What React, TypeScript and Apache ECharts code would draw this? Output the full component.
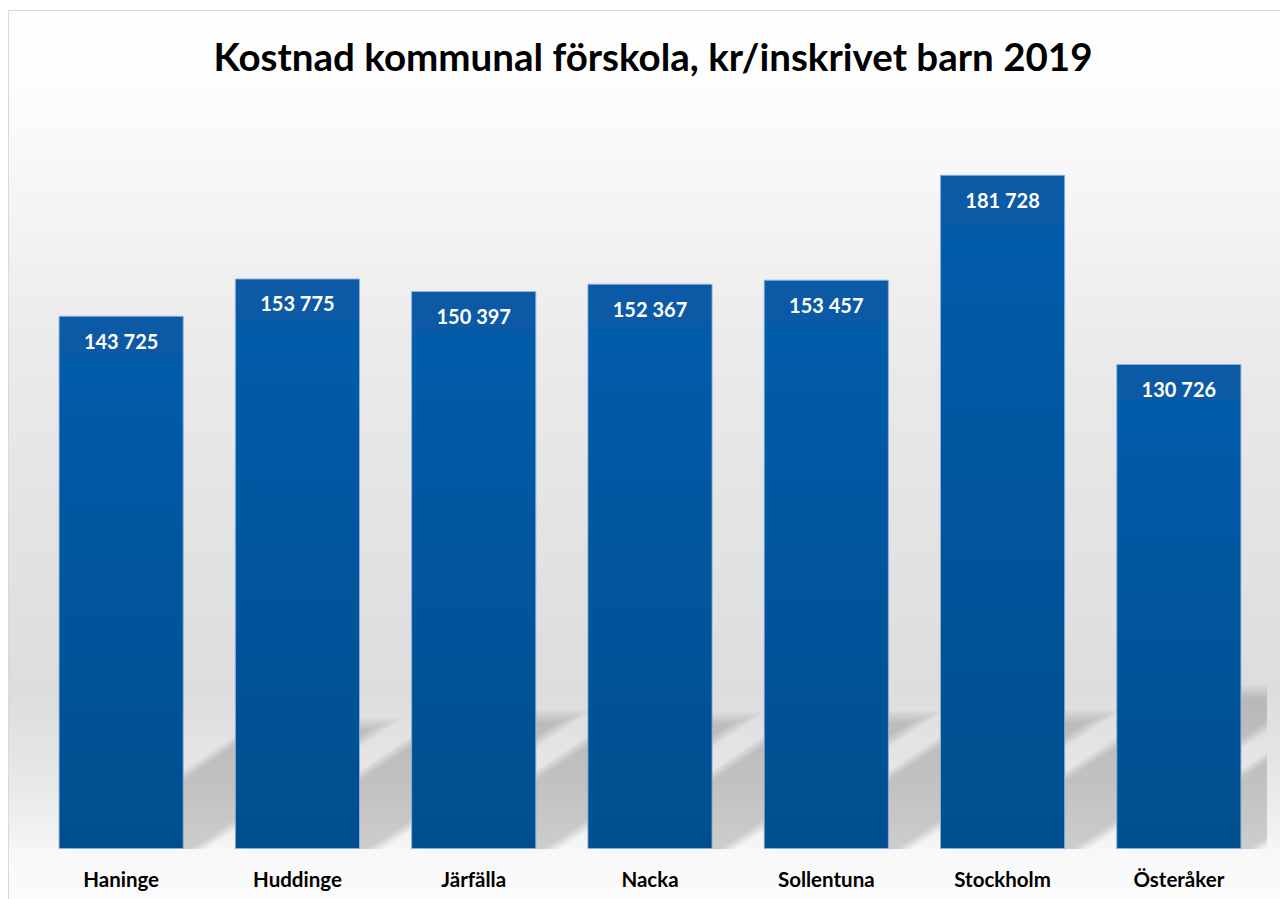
import React, { useEffect, useRef } from "react";
import * as echarts from "echarts";

const titleText = "Kostnad kommunal förskola, kr/inskrivet barn 2019";
const categories = ["Haninge", "Huddinge", "Järfälla", "Nacka", "Sollentuna", "Stockholm", "Österåker"];
const values = [143725, 153775, 150397, 152367, 153457, 181728, 130726];
const yMax = 200000;

const fmt = (n: number) => String(n).replace(/\B(?=(\d{3})+(?!\d))/g, " ");
const FONT = "Lato";

export default function App() {
  const ref = useRef<HTMLDivElement>(null);
  useEffect(() => {
    if (!ref.current) return;
    const chart = echarts.init(ref.current, null, { renderer: "svg" });
    const barFrac = 0.355;
    chart.setOption({
      animation: false,
      backgroundColor: "#ffffff",
      title: {
        text: titleText,
        left: 648,
        top: 31,
        textAlign: "center",
        textStyle: { fontFamily: FONT, fontWeight: "bold", fontSize: 38.5, color: "#000" },
      },
      graphic: [
        {
          type: "rect",
          z: -10,
          silent: true,
          shape: { x: 8.5, y: 10.5, width: 1300, height: 899 },
          style: {
            stroke: "#d9d9d9",
            lineWidth: 1,
            fill: new echarts.graphic.LinearGradient(0, 0, 0, 1, [
              { offset: 0, color: "#ffffff" },
              { offset: 0.1, color: "#fcfcfc" },
              { offset: 0.21, color: "#f5f5f5" },
              { offset: 0.37, color: "#ebebeb" },
              { offset: 0.55, color: "#e4e4e4" },
              { offset: 0.76, color: "#dddddd" },
              { offset: 0.86, color: "#e8e8e8" },
              { offset: 0.92, color: "#f3f3f3" },
              { offset: 0.94, color: "#f9f9f9" },
              { offset: 1, color: "#fbfbfb" },
            ]),
          },
        },
      ],
      grid: { left: 33, right: 13, top: 107, bottom: 50, containLabel: false },
      xAxis: {
        type: "category",
        data: categories,
        axisLine: { show: false },
        axisTick: { show: false },
        axisLabel: {
          margin: 19,
          fontFamily: FONT,
          fontWeight: "bold",
          fontSize: 20.5,
          color: "#000",
        },
      },
      yAxis: {
        type: "value",
        min: 0,
        max: yMax,
        show: false,
        splitLine: { show: false },
      },
      series: [
        {
          type: "custom",
          z: 1,
          clip: true,
          silent: true,
          data: values.map((v, i) => [i, v]),
          renderItem: (params: any, api: any) => {
            const i = api.value(0);
            const v = api.value(1);
            const base = api.coord([i, 0]);
            const top = api.coord([i, v]);
            const band = api.size([1, 0])[0];
            const half = band * barFrac;
            const h = base[1] - top[1];
            const dy = h * 0.233;
            const dx = dy / 0.62;
            const L = base[0] - half;
            const R = base[0] + half;
            const B = base[1];
            const layers = [-7, -4.5, -2, 0.5, 3, 5.5, 8];
            const children = layers.map((k) => {
              const l = L - k;
              const r = R + k;
              const cap = B - dy - k * 0.8;
              const shift = (B - cap) / 0.62;
              return {
                type: "polygon",
                shape: {
                  points: [
                    [l, B + 10],
                    [r, B + 10],
                    [r + shift, cap],
                    [l + shift, cap],
                  ],
                },
                style: { fill: "rgba(0,0,0,0.022)" },
              };
            });
            return { type: "group", children };
          },
        },
        {
          type: "bar",
          z: 3,
          data: values,
          barWidth: (barFrac * 200).toFixed(1) + "%",
          itemStyle: {
            color: new echarts.graphic.LinearGradient(0, 0, 0, 1, [
              { offset: 0, color: "#0c5aa5" },
              { offset: 0.07, color: "#0c5aa5" },
              { offset: 0.08, color: "#015caa" },
              { offset: 1, color: "#004e8d" },
            ]),
            borderColor: "rgba(140,180,225,0.9)",
            borderWidth: 1,
          },
          label: {
            show: true,
            position: "insideTop",
            distance: 15,
            formatter: (p: any) => fmt(p.value),
            fontFamily: FONT,
            fontWeight: "bold",
            fontSize: 20,
            color: "#ffffff",
          },
        },
      ],
    });
    return () => chart.dispose();
  }, []);
  return (
    <div
      ref={ref}
      style={{ position: "fixed", left: 0, top: 0, width: 1280, height: 899 }}
    />
  );
}
